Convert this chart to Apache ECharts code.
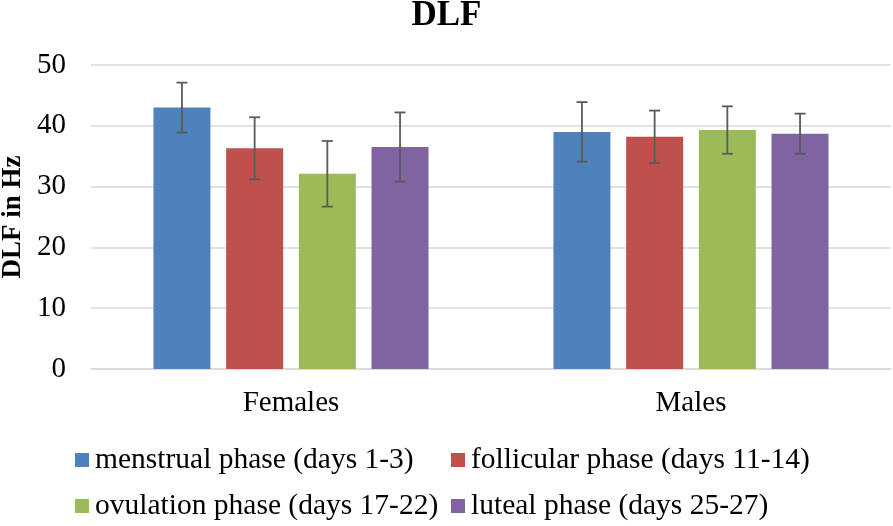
<!DOCTYPE html>
<html>
<head>
<meta charset="utf-8">
<script src="https://cdn.jsdelivr.net/npm/echarts@6/dist/echarts.min.js"></script>
<style>html,body{margin:0;padding:0;background:#fff}#c{width:893px;height:526px}</style>
</head>
<body>
<div id="c"></div>
<script>
var categories = ['Females', 'Males'];
var seriesNames = ['menstrual phase (days 1-3)', 'follicular phase (days 11-14)', 'ovulation phase (days 17-22)', 'luteal phase (days 25-27)'];
var menstrual = [43.0, 39.0];
var follicular = [36.3, 38.2];
var ovulation = [32.1, 39.3];
var luteal = [36.5, 38.7];
var menstrualErr = [4.1, 4.9];
var follicularErr = [5.1, 4.3];
var ovulationErr = [5.4, 3.9];
var lutealErr = [5.7, 3.3];
var yTicks = [0, 10, 20, 30, 40, 50];

var means = [menstrual, follicular, ovulation, luteal];
var errs = [menstrualErr, follicularErr, ovulationErr, lutealErr];
var colors = ['#4F81BD', '#C0504D', '#9BBB59', '#8064A2'];
var BAR_W = 57, GAP = 15.7;
var FONT = 'Liberation Serif';

var errData = [];
for (var s = 0; s < 4; s++) {
  for (var c = 0; c < categories.length; c++) {
    errData.push([c, means[s][c], errs[s][c], s]);
  }
}

var series = [];
for (var s = 0; s < 4; s++) {
  series.push({
    name: seriesNames[s], type: 'bar', data: means[s], barWidth: BAR_W, barGap: (GAP / BAR_W * 100) + '%',
    itemStyle: { color: colors[s] }
  });
}
series.push({
  type: 'custom', z: 10, silent: true, data: errData,
  renderItem: function (params, api) {
    var c = api.value(0), m = api.value(1), e = api.value(2), s = api.value(3);
    var base = api.coord([c, m]);
    var x = base[0] + (s - 1.5) * (BAR_W + GAP);
    var yt = api.coord([c, m + e])[1];
    var yb = api.coord([c, m - e])[1];
    var st = { stroke: '#5a5a5a', lineWidth: 1.8 };
    var hw = 5.5;
    return { type: 'group', children: [
      { type: 'line', shape: { x1: x, y1: yt, x2: x, y2: yb }, style: st },
      { type: 'line', shape: { x1: x - hw, y1: yt, x2: x + hw, y2: yt }, style: st },
      { type: 'line', shape: { x1: x - hw, y1: yb, x2: x + hw, y2: yb }, style: st }
    ]};
  }
});

function legendItem(i, left, top) {
  return {
    data: [seriesNames[i]], left: left, top: top, orient: 'horizontal',
    itemWidth: 14, itemHeight: 14, icon: 'rect', selectedMode: false,
    textStyle: { fontFamily: FONT, fontSize: 29.5, color: '#000', lineHeight: 30, padding: [0, 0, 0, 1] }
  };
}

var chart = echarts.init(document.getElementById('c'));
chart.setOption({
  animation: false,
  title: { text: 'DLF', left: 'center', top: -7, textStyle: { fontFamily: FONT, fontSize: 35, fontWeight: 'bold', color: '#000' } },
  legend: [legendItem(0, 70, 440), legendItem(1, 446, 440), legendItem(2, 70, 486), legendItem(3, 446, 486)],
  grid: { left: 91, right: 2, top: 65, bottom: 157, outerBoundsMode: 'none', containLabel: false },
  xAxis: {
    type: 'category', data: categories,
    axisLine: { lineStyle: { color: '#d9d9d9', width: 1.5 } },
    axisTick: { show: false },
    axisLabel: { fontFamily: FONT, fontSize: 29, color: '#000', margin: 20 }
  },
  yAxis: {
    type: 'value', min: yTicks[0], max: yTicks[yTicks.length - 1], interval: 10,
    name: 'DLF in Hz', nameLocation: 'middle', nameGap: 61, nameRotate: 90,
    nameTextStyle: { fontFamily: FONT, fontSize: 27, fontWeight: 'bold', color: '#000' },
    axisLine: { show: false }, axisTick: { show: false },
    splitLine: { lineStyle: { color: '#d9d9d9', width: 1.5 } },
    axisLabel: { fontFamily: FONT, fontSize: 29, color: '#000', margin: 25 }
  },
  series: series
});
</script>
</body>
</html>
